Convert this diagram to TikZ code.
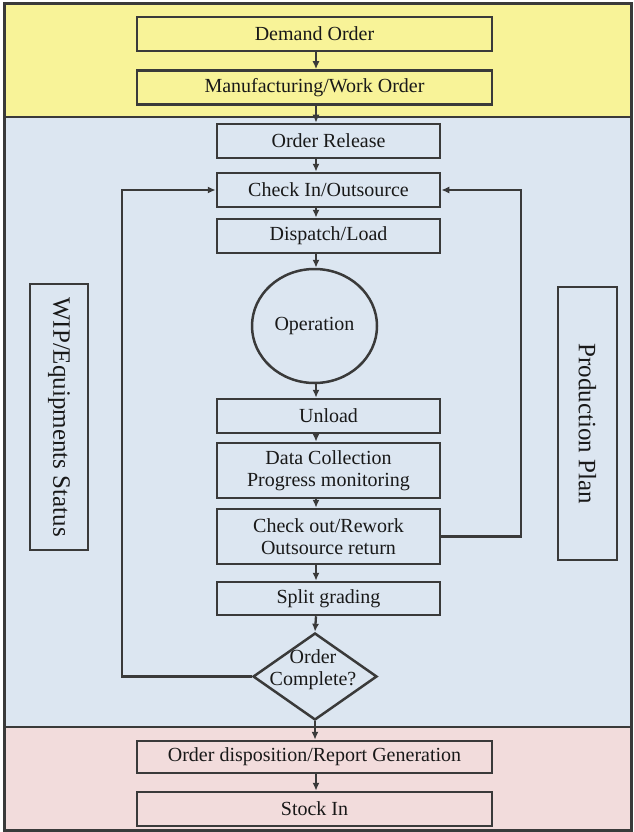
\documentclass[tikz,border=0pt]{standalone}
\usepackage{fontspec}
\setmainfont{Liberation Serif}
\usetikzlibrary{arrows.meta,shapes.geometric}
\definecolor{bandyellow}{RGB}{248,243,152}
\definecolor{bandblue}{RGB}{220,230,241}
\definecolor{bandpink}{RGB}{242,220,220}
\definecolor{ink}{RGB}{58,58,58}
\definecolor{txt}{RGB}{25,25,25}
\begin{document}
\begin{tikzpicture}[x=1pt,y=-1pt,
  box/.style={draw=ink, line width=2.5pt, rectangle, inner sep=0pt, align=center,
    text=txt, font=\fontsize{20}{22}\selectfont},
  wide/.style={box, minimum width=355pt, minimum height=34pt},
  mid/.style={box, minimum width=223pt, minimum height=34pt},
  tall/.style={box, minimum width=223pt, minimum height=55pt},
  side/.style={box, rotate=-90, font=\fontsize{25}{28}\selectfont},
  flow/.style={draw=ink, line width=2.3pt, -{Latex[length=8pt,width=7pt]}},
  sep/.style={draw=ink, line width=2pt}]
\useasboundingbox (0,0) rectangle (634,832);

% background bands
\fill[bandyellow] (4,4) rectangle (631,117);
\fill[bandblue] (4,117) rectangle (631,727);
\fill[bandpink] (4,727) rectangle (631,830);
\draw[sep] (4,117) -- (631,117);
\draw[sep] (4,727) -- (631,727);
\draw[draw=ink, line width=3pt] (4,4) rectangle (631,830);

% spine of the vertical flow and the two loop columns
\coordinate (spine) at (316,0);
\coordinate (lx) at (122,0);
\coordinate (rx) at (521,0);

% planning stage
\node[wide] (demand) at (314.5,34) {Demand Order};
\node[wide] (mwo) at (314.5,87.5) {Manufacturing/Work Order};

% shop-floor stage
\node[mid] (release) at (328.5,141) {Order Release};
\node[mid] (checkin) at (328.5,190) {Check In/Outsource};
\node[mid] (dispatch) at (328.5,236) {Dispatch/Load};
\node[box, ellipse, minimum width=125pt, minimum height=114pt] (op) at (314.5,326) {Operation};
\node[mid] (unload) at (328.5,416) {Unload};
\node[tall] (data) at (328.5,470.5) {Data Collection\\Progress monitoring};
\node[tall] (checkout) at (328.5,536.5) {Check out/Rework\\Outsource return};
\node[mid, minimum height=33pt] (split) at (328.5,598.5) {Split grading};
\node[box, diamond, minimum width=124pt, minimum height=87pt] (dec) at (315,676.5) {};
\node[align=center, text=txt, font=\fontsize{20}{22}\selectfont] (declabel) at (313,670) {Order\\Complete?};

% side panels
\node[side, minimum width=266pt, minimum height=58pt] (wip) at (59,417) {WIP/Equipments Status};
\node[side, minimum width=273pt, minimum height=59pt] (plan) at (587.5,423.5) {Production Plan};

% closing stage
\node[wide, minimum height=32pt] (disp) at (314.5,757) {Order disposition/Report Generation};
\node[wide] (stock) at (314.5,809) {Stock In};

% main flow
\draw[flow] (demand.south -| spine) -- (mwo.north -| spine);
\draw[flow] (mwo.south -| spine) -- (release.north -| spine);
\draw[flow] (release.south -| spine) -- (checkin.north -| spine);
\draw[flow] (checkin.south -| spine) -- (dispatch.north -| spine);
\draw[flow] (dispatch.south -| spine) -- (op.north -| spine);
\draw[flow] (op.south -| spine) -- (unload.north -| spine);
\draw[flow] (unload.south -| spine) -- (data.north -| spine);
\draw[flow] (data.south -| spine) -- (checkout.north -| spine);
\draw[flow] (checkout.south -| spine) -- (split.north -| spine);
\draw[flow] (split.south -| spine) -- (dec.north);
\draw[flow] (dec.south) -- (disp.north -| dec.south);
\draw[flow] (disp.south -| spine) -- (stock.north -| spine);

% feedback loops
\draw[flow] (dec.west) -| (lx |- checkin.west) -- (checkin.west);
\draw[flow] (checkout.east) -| (rx |- checkin.east) -- (checkin.east);
\end{tikzpicture}
\end{document}
